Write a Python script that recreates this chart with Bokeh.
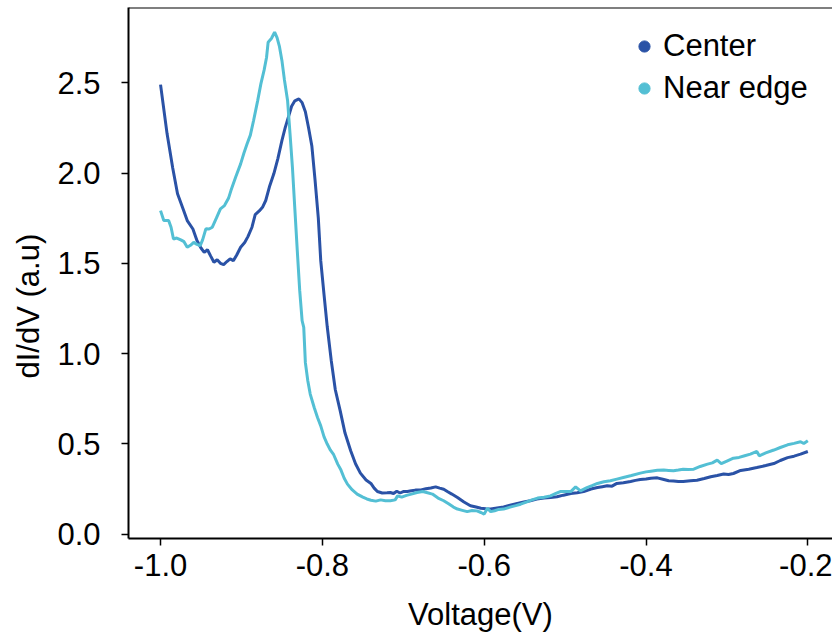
import math
from bokeh.plotting import figure
from bokeh.models import (Range1d, FixedTicker, PrintfTickFormatter, Legend, LegendItem,
                          Title, Span, ColumnDataSource)
from bokeh.embed import file_html
from bokeh.resources import INLINE

# ---------------- data ----------------
center_v = [-1.000, -0.992, -0.985, -0.979, -0.972, -0.967, -0.960, -0.955, -0.950, -0.946,
            -0.942, -0.938, -0.934, -0.930, -0.926, -0.922, -0.918, -0.914, -0.910, -0.906,
            -0.901, -0.896, -0.892, -0.887, -0.883, -0.878, -0.874, -0.870, -0.865, -0.860,
            -0.855, -0.850, -0.846, -0.842, -0.838, -0.834, -0.829, -0.825, -0.821, -0.817,
            -0.813, -0.809, -0.805, -0.802, -0.798, -0.794, -0.789, -0.784, -0.778, -0.772,
            -0.765, -0.759, -0.753, -0.746, -0.740, -0.736, -0.732, -0.726, -0.720, -0.716,
            -0.712, -0.708, -0.704, -0.700, -0.695, -0.690, -0.685, -0.678, -0.672, -0.666,
            -0.660, -0.655, -0.650, -0.645, -0.640, -0.633, -0.625, -0.617, -0.610, -0.604,
            -0.598, -0.592, -0.584, -0.576, -0.568, -0.559, -0.551, -0.543, -0.535, -0.526,
            -0.518, -0.510, -0.502, -0.493, -0.485, -0.477, -0.468, -0.460, -0.454, -0.448,
            -0.442, -0.436, -0.428, -0.419, -0.413, -0.407, -0.400, -0.394, -0.386, -0.378,
            -0.372, -0.366, -0.360, -0.354, -0.345, -0.337, -0.328, -0.320, -0.312, -0.304,
            -0.298, -0.292, -0.283, -0.273, -0.263, -0.252, -0.242, -0.234, -0.225, -0.217,
            -0.209, -0.200]
center_y = [2.490, 2.220, 2.030, 1.885, 1.800, 1.737, 1.690, 1.626, 1.585, 1.561,
            1.575, 1.540, 1.506, 1.520, 1.500, 1.493, 1.510, 1.525, 1.515, 1.545,
            1.589, 1.615, 1.648, 1.700, 1.770, 1.790, 1.810, 1.848, 1.930, 1.996,
            2.080, 2.180, 2.250, 2.310, 2.370, 2.400, 2.411, 2.390, 2.340, 2.250,
            2.150, 1.960, 1.750, 1.515, 1.330, 1.150, 0.961, 0.800, 0.684, 0.560,
            0.462, 0.390, 0.338, 0.300, 0.281, 0.255, 0.236, 0.228, 0.229, 0.231,
            0.225, 0.238, 0.228, 0.236, 0.236, 0.240, 0.244, 0.245, 0.252, 0.256,
            0.262, 0.255, 0.249, 0.235, 0.222, 0.203, 0.178, 0.157, 0.150, 0.144,
            0.141, 0.139, 0.145, 0.151, 0.160, 0.170, 0.178, 0.185, 0.194, 0.200,
            0.203, 0.207, 0.216, 0.225, 0.229, 0.236, 0.250, 0.258, 0.263, 0.268,
            0.266, 0.281, 0.285, 0.292, 0.298, 0.303, 0.305, 0.310, 0.312, 0.303,
            0.296, 0.295, 0.292, 0.292, 0.296, 0.299, 0.308, 0.318, 0.325, 0.333,
            0.330, 0.336, 0.353, 0.360, 0.369, 0.380, 0.391, 0.408, 0.424, 0.432,
            0.443, 0.458]

edge_v = [-1.000, -0.996, -0.990, -0.987, -0.984, -0.980, -0.975, -0.971, -0.967, -0.963,
          -0.959, -0.955, -0.951, -0.948, -0.944, -0.940, -0.936, -0.931, -0.926, -0.921,
          -0.916, -0.913, -0.907, -0.901, -0.897, -0.893, -0.889, -0.885, -0.880, -0.876,
          -0.872, -0.869, -0.867, -0.863, -0.859, -0.856, -0.853, -0.850, -0.847, -0.843,
          -0.840, -0.837, -0.834, -0.831, -0.828, -0.825, -0.823, -0.821, -0.818, -0.815,
          -0.810, -0.806, -0.802, -0.798, -0.794, -0.790, -0.786, -0.781, -0.777, -0.773,
          -0.769, -0.763, -0.757, -0.750, -0.745, -0.740, -0.734, -0.728, -0.722, -0.716,
          -0.710, -0.707, -0.702, -0.696, -0.690, -0.683, -0.676, -0.670, -0.664, -0.657,
          -0.650, -0.644, -0.638, -0.633, -0.627, -0.621, -0.615, -0.609, -0.604, -0.600,
          -0.596, -0.592, -0.587, -0.582, -0.576, -0.568, -0.561, -0.555, -0.548, -0.541,
          -0.534, -0.526, -0.518, -0.512, -0.506, -0.499, -0.493, -0.487, -0.481, -0.473,
          -0.466, -0.460, -0.452, -0.444, -0.436, -0.428, -0.418, -0.407, -0.400, -0.394,
          -0.386, -0.378, -0.372, -0.366, -0.360, -0.354, -0.348, -0.341, -0.333, -0.324,
          -0.318, -0.312, -0.307, -0.300, -0.292, -0.285, -0.278, -0.271, -0.263, -0.260,
          -0.252, -0.242, -0.234, -0.225, -0.217, -0.209, -0.205, -0.200]
edge_y = [1.792, 1.737, 1.737, 1.700, 1.635, 1.640, 1.630, 1.620, 1.589, 1.600,
          1.616, 1.605, 1.598, 1.630, 1.691, 1.690, 1.700, 1.750, 1.802, 1.820,
          1.860, 1.903, 1.980, 2.051, 2.110, 2.162, 2.210, 2.291, 2.400, 2.494,
          2.570, 2.640, 2.725, 2.745, 2.780, 2.750, 2.700, 2.624, 2.520, 2.402,
          2.220, 2.032, 1.800, 1.570, 1.350, 1.182, 1.145, 0.950, 0.850, 0.776,
          0.700, 0.646, 0.600, 0.540, 0.499, 0.465, 0.440, 0.388, 0.355, 0.310,
          0.277, 0.245, 0.222, 0.205, 0.195, 0.188, 0.183, 0.190, 0.185, 0.185,
          0.190, 0.212, 0.205, 0.215, 0.222, 0.231, 0.236, 0.229, 0.222, 0.200,
          0.185, 0.168, 0.150, 0.139, 0.132, 0.125, 0.131, 0.129, 0.120, 0.111,
          0.144, 0.125, 0.130, 0.137, 0.139, 0.150, 0.158, 0.166, 0.178, 0.190,
          0.200, 0.205, 0.212, 0.224, 0.236, 0.236, 0.236, 0.262, 0.240, 0.258,
          0.270, 0.281, 0.290, 0.296, 0.305, 0.314, 0.325, 0.338, 0.345, 0.349,
          0.354, 0.355, 0.353, 0.351, 0.355, 0.360, 0.358, 0.360, 0.375, 0.388,
          0.395, 0.410, 0.391, 0.405, 0.421, 0.425, 0.434, 0.443, 0.458, 0.434,
          0.450, 0.466, 0.480, 0.495, 0.503, 0.512, 0.502, 0.517]

series_names = ["Center", "Near edge"]
series_colors = ["#2a52a6", "#53bfd4"]
x_ticks = [-1.0, -0.8, -0.6, -0.4, -0.2]
y_ticks = [0.0, 0.5, 1.0, 1.5, 2.0, 2.5]
x_label = "Voltage(V)"
y_label = "dI/dV (a.u)"

FONT = "Liberation Sans"
FS = "31px"

# ---------------- figure ----------------
X0, X1 = -1.0396, -0.1695
Y0, Y1 = -0.024, 2.917

p = figure(width=832, height=634, output_backend="svg", toolbar_location=None,
           x_range=Range1d(X0, X1), y_range=Range1d(Y0, Y1),
           min_border_left=128, min_border_right=0, min_border_top=7, min_border_bottom=96)
p.outline_line_color = None
p.grid.visible = False
p.background_fill_color = "white"
p.border_fill_color = "white"

r1 = p.line(center_v, center_y, line_color=series_colors[0], line_width=3)
r2 = p.line(edge_v, edge_y, line_color=series_colors[1], line_width=3)

# top frame line
p.add_layout(Span(location=Y1, dimension="width", line_color="black", line_width=2))

for ax in (p.xaxis[0], p.yaxis[0]):
    ax.axis_line_color = "black"
    ax.axis_line_width = 2
    ax.major_tick_line_color = "black"
    ax.major_tick_line_width = 1.5
    ax.major_tick_out = 7
    ax.major_tick_in = 0
    ax.minor_tick_line_color = None
    ax.major_label_text_font = FONT
    ax.major_label_text_font_size = FS
    ax.major_label_text_color = "black"
    ax.formatter = PrintfTickFormatter(format="%.1f")

p.xaxis.ticker = FixedTicker(ticks=x_ticks)
p.yaxis.ticker = FixedTicker(ticks=y_ticks)
p.xaxis.major_label_standoff = 8
p.yaxis.major_label_standoff = 21
p.xaxis.axis_label = x_label
p.xaxis.axis_label_text_font = FONT
p.xaxis.axis_label_text_font_size = FS
p.xaxis.axis_label_text_font_style = "normal"
p.xaxis.axis_label_text_color = "black"
p.xaxis.axis_label_standoff = 18

# y label as a side title (sits a little below the frame centre)
p.add_layout(Title(text=y_label, align="left", vertical_align="top", offset=160, standoff=14,
                   text_font=FONT, text_font_size=FS, text_font_style="normal",
                   text_color="black"), "left")

# legend with dot markers (marker renderers placed far off-range, used only for the legend)
dots = ColumnDataSource(data=dict(x=[-5.0], y=[-5.0]))
d1 = p.scatter("x", "y", source=dots, size=11, color=series_colors[0])
d2 = p.scatter("x", "y", source=dots, size=11, color=series_colors[1])
legend = Legend(items=[LegendItem(label=series_names[0], renderers=[d1]),
                       LegendItem(label=series_names[1], renderers=[d2])],
                location=(502, 432), orientation="vertical",
                border_line_color=None, background_fill_alpha=0,
                label_text_font=FONT, label_text_font_size=FS, label_text_color="black",
                label_height=34, glyph_height=34, glyph_width=28, label_standoff=5,
                spacing=6, padding=0, margin=0)
p.add_layout(legend)

open("out.html", "w").write(file_html(p, INLINE))
